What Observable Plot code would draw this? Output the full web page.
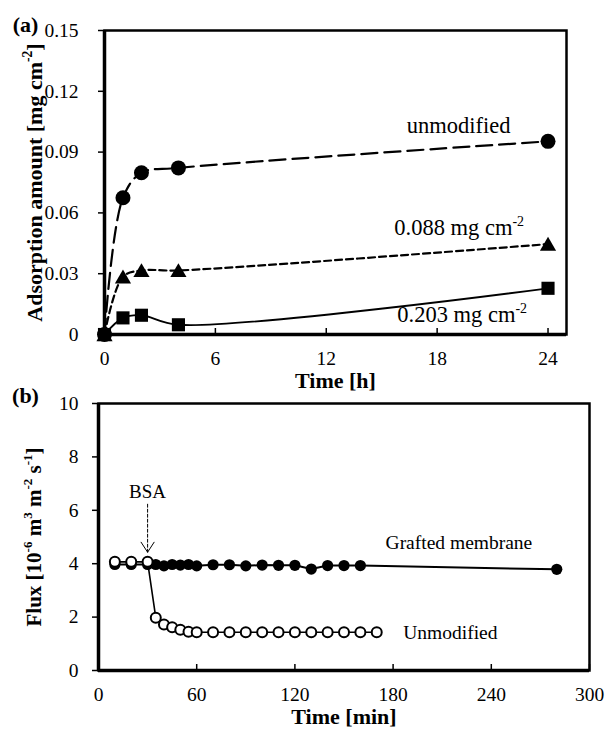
<!DOCTYPE html>
<html><head><meta charset="utf-8">
<script src="https://cdn.jsdelivr.net/npm/d3@7"></script>
<script src="https://cdn.jsdelivr.net/npm/@observablehq/plot@0.6"></script>
<style>
html,body{margin:0;padding:0;background:#fff;}
#chart{width:605px;height:730px;}
#chart svg{display:block;overflow:visible;background:transparent !important;}
#chart svg, #chart svg text, #chart svg tspan{font-family:"Liberation Serif","Times New Roman",serif !important;}
</style></head><body><div id="chart"></div>
<script>
// ---------- Panel (a): adsorption amount vs time ----------
const timeA = [0, 1, 2, 4, 24];
const unmodifiedA = [0, 0.0675, 0.0798, 0.0822, 0.0953];
const grafted088A = [0, 0.0285, 0.0316, 0.0316, 0.0446];
const grafted203A = [0, 0.0082, 0.0095, 0.0048, 0.0228];
const seriesNamesA = ["unmodified", "0.088 mg cm^{-2}", "0.203 mg cm^{-2}"];
const xTicksA = [0, 6, 12, 18, 24];
const yTicksA = [0, 0.03, 0.06, 0.09, 0.12, 0.15];
const yTickLabelsA = ["0", "0.03", "0.06", "0.09", "0.12", "0.15"];

// ---------- Panel (b): flux vs time ----------
const timeGraftedB = [10, 20, 30, 35, 40, 45, 50, 55, 60, 70, 80, 90, 100, 110, 120, 130, 140, 150, 160, 280];
const fluxGraftedB = [3.97, 3.97, 3.97, 3.97, 3.92, 3.97, 3.95, 3.97, 3.92, 3.96, 3.96, 3.92, 3.95, 3.94, 3.94, 3.8, 3.93, 3.93, 3.93, 3.79];
const timeUnmodB = [10, 20, 30, 35, 40, 45, 50, 55, 60, 70, 80, 90, 100, 110, 120, 130, 140, 150, 160, 170];
const fluxUnmodB = [4.07, 4.07, 4.07, 1.98, 1.72, 1.62, 1.53, 1.45, 1.43, 1.43, 1.43, 1.43, 1.43, 1.43, 1.43, 1.43, 1.43, 1.43, 1.43, 1.43];
const seriesNamesB = ["Grafted membrane", "Unmodified"];
const bsaTime = 30;
const bsaLabel = "BSA";
const xTicksB = [0, 60, 120, 180, 240, 300];
const yTicksB = [0, 2, 4, 6, 8, 10];

const FONT = "'Liberation Serif', 'Times New Roman', serif";

const rows = (xs, ys) => xs.map((x, i) => ({x, y: ys[i]}));
const uA = rows(timeA, unmodifiedA);
const g1A = rows(timeA, grafted088A);
const g2A = rows(timeA, grafted203A);
const gB = rows(timeGraftedB, fluxGraftedB);
const uB = rows(timeUnmodB, fluxUnmodB);
const bsaPoint = uB.find(d => d.x === bsaTime);

const baseStyle = {fontFamily: FONT, fontSize: "19.5px", color: "black", background: "transparent", overflow: "visible"};

const plotA = Plot.plot({
  width: 605, height: 392,
  marginTop: 30, marginLeft: 104, marginRight: 39, marginBottom: 58,
  style: baseStyle,
  x: {domain: [0, 25], axis: null},
  y: {domain: [0, 0.15], axis: null},
  marks: [
    Plot.line(uA, {x: "x", y: "y", curve: "catmull-rom", stroke: "black", strokeWidth: 2.2, strokeDasharray: "16,7"}),
    Plot.line(g1A, {x: "x", y: "y", curve: "catmull-rom", stroke: "black", strokeWidth: 2.2, strokeDasharray: "7,4"}),
    Plot.line(g2A, {x: "x", y: "y", curve: "catmull-rom", stroke: "black", strokeWidth: 1.8}),
    Plot.dot(uA, {x: "x", y: "y", symbol: "circle", r: 7.5, fill: "black"}),
    Plot.dot(g1A, {x: "x", y: "y", symbol: "triangle", r: 6, fill: "black", dy: 2}),
    Plot.dot(g2A, {x: "x", y: "y", symbol: "square", r: 7.4, fill: "black"}),
    Plot.frame({stroke: "black", strokeWidth: 2.5}),
    Plot.ruleX([0], {stroke: "black", strokeWidth: 3.5}),
    Plot.ruleY([0], {stroke: "black", strokeWidth: 3.5}),
    Plot.ruleX(xTicksA, {x: d => d, insetTop: 298, stroke: "black", strokeWidth: 1.5}),
    Plot.axisY({ticks: yTicksA, tickFormat: d => yTickLabelsA[yTicksA.indexOf(d)], tickSize: 6, tickPadding: 20, strokeWidth: 1.5, label: null, fontSize: 19.5}),
    Plot.axisX({ticks: xTicksA, tickFormat: d => String(d), tickSize: 0, tickPadding: 17, label: null, fontSize: 19.5}),
    Plot.text(["Adsorption amount [mg cm^{-2}]"], {frameAnchor: "left", rotate: -90, dx: -70, textAnchor: "middle", lineAnchor: "middle", fontWeight: "bold", fontSize: 22}),
    Plot.text(["Time [h]"], {frameAnchor: "bottom", dy: 46, textAnchor: "middle", lineAnchor: "middle", fontWeight: "bold", fontSize: 22}),
    Plot.text(["(a)"], {frameAnchor: "top-left", dx: -79, dy: -6, textAnchor: "middle", lineAnchor: "middle", fontWeight: "bold", fontSize: 22}),
    Plot.text([uA[uA.length - 1]], {x: "x", y: "y", text: () => seriesNamesA[0], textAnchor: "end", dx: -37.5, dy: -16, fontSize: 22.5}),
    Plot.text([g1A[g1A.length - 1]], {x: "x", y: "y", text: () => seriesNamesA[1], textAnchor: "end", dx: -24, dy: -16, fontSize: 22.5}),
    Plot.text([g2A[g2A.length - 1]], {x: "x", y: "y", text: () => seriesNamesA[2], textAnchor: "end", dx: -21, dy: 26.5, fontSize: 22.5})
  ]
});

const lineShape = {draw(ctx, l) { ctx.moveTo(0, 0); ctx.lineTo(0, -l); }};
const headShape = {draw(ctx, l) { ctx.moveTo(-6.5, -l + 10); ctx.lineTo(0, -l); ctx.lineTo(6.5, -l + 10); }};

const plotB = Plot.plot({
  width: 605, height: 338,
  marginTop: 11, marginLeft: 98, marginRight: 16, marginBottom: 60,
  style: baseStyle,
  x: {domain: [0, 300], axis: null},
  y: {domain: [0, 10], axis: null},
  marks: [
    Plot.line(gB, {x: "x", y: "y", stroke: "black", strokeWidth: 2}),
    Plot.dot(gB, {x: "x", y: "y", r: 5.6, fill: "black"}),
    Plot.line(uB, {x: "x", y: "y", stroke: "black", strokeWidth: 1.6}),
    Plot.dot(uB, {x: "x", y: "y", r: 5, fill: "white", stroke: "black", strokeWidth: 2}),
    Plot.frame({stroke: "black", strokeWidth: 2.5}),
    Plot.ruleX([0], {stroke: "black", strokeWidth: 3.5}),
    Plot.ruleY([0], {stroke: "black", strokeWidth: 3.5}),
    Plot.ruleX(xTicksB, {x: d => d, insetTop: 261, stroke: "black", strokeWidth: 1.5}),
    Plot.axisY({ticks: yTicksB, tickFormat: d => String(d), tickSize: 6, tickPadding: 14, strokeWidth: 1.5, label: null, fontSize: 19.5}),
    Plot.axisX({ticks: xTicksB, tickFormat: d => String(d), tickSize: 0, tickPadding: 17, label: null, fontSize: 19.5}),
    Plot.text(["Flux [10^{-6} m^{3} m^{-2} s^{-1}]"], {frameAnchor: "left", rotate: -90, dx: -64, textAnchor: "middle", lineAnchor: "middle", fontWeight: "bold", fontSize: 21}),
    Plot.text(["Time [min]"], {frameAnchor: "bottom", dy: 46, textAnchor: "middle", lineAnchor: "middle", fontWeight: "bold", fontSize: 22}),
    Plot.text(["(b)"], {frameAnchor: "top-left", dx: -73, dy: -8, textAnchor: "middle", lineAnchor: "middle", fontWeight: "bold", fontSize: 22}),
    Plot.text([gB[gB.length - 1]], {x: "x", y: "y", text: () => seriesNamesB[0], textAnchor: "end", dx: -24.5, dy: -26.7, fontSize: 19.5}),
    Plot.text([uB[uB.length - 1]], {x: "x", y: "y", text: () => seriesNamesB[1], textAnchor: "start", dx: 26.5, dy: 0.3, fontSize: 19.5}),
    Plot.text([bsaPoint], {x: "x", y: "y", text: () => bsaLabel, textAnchor: "middle", dy: -69.5, fontSize: 19}),
    Plot.vector([bsaPoint], {x: "x", y: "y", length: 48, rotate: 180, anchor: "end", dy: -9.6, shape: lineShape, stroke: "black", strokeWidth: 1, strokeDasharray: "3,2"}),
    Plot.vector([bsaPoint], {x: "x", y: "y", length: 48, rotate: 180, anchor: "end", dy: -9.6, shape: headShape, stroke: "black", strokeWidth: 1})
  ]
});

const chart = document.getElementById("chart");
chart.appendChild(plotA);
chart.appendChild(plotB);

// Convert "^{...}" markup into real superscript tspans
function applySup(svg) {
  svg.querySelectorAll("text").forEach(t => {
    const tsp = t.querySelectorAll("tspan");
    const targets = tsp.length ? [...tsp] : [t];
    targets.forEach(el => {
      const s = el.textContent;
      if (!s.includes("^{")) return;
      const fs = parseFloat(getComputedStyle(el).fontSize) || 20;
      const shift = 0.42 * fs;
      el.textContent = "";
      const re = /\^\{([^}]*)\}/g;
      let last = 0, m, pendingDown = false;
      const ns = "http://www.w3.org/2000/svg";
      const add = (txt, sup) => {
        const sp = document.createElementNS(ns, "tspan");
        sp.textContent = txt;
        if (sup) { sp.setAttribute("dy", -shift); sp.setAttribute("font-size", (0.62 * fs) + "px"); pendingDown = true; }
        else if (pendingDown) { sp.setAttribute("dy", shift); pendingDown = false; }
        el.appendChild(sp);
      };
      while ((m = re.exec(s))) {
        if (m.index > last) add(s.slice(last, m.index), false);
        add(m[1], true);
        last = re.lastIndex;
      }
      if (last < s.length) add(s.slice(last), false);
    });
  });
}
applySup(plotA);
applySup(plotB);
</script></body></html>
